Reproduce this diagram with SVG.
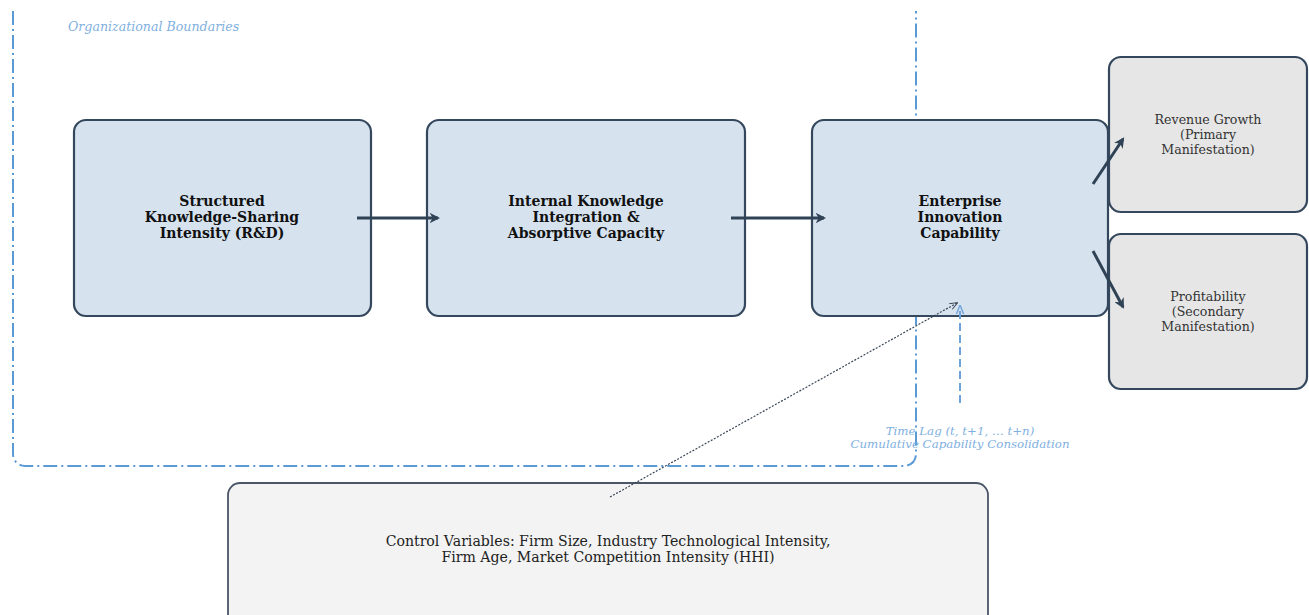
<svg xmlns="http://www.w3.org/2000/svg" width="1309" height="615" viewBox="0 0 1309 615">
<defs>
<style>
.main{fill:#d6e3ef;stroke:#34475d;stroke-width:2.2}
.out{fill:#e6e6e6;stroke:#34475d;stroke-width:2.2}
.ctl{fill:#f3f3f3;stroke:#4a5567;stroke-width:1.8}
.bt{font-family:"DejaVu Serif",serif;font-weight:bold;font-size:14px;fill:#111;text-anchor:middle}
.ot{font-family:"DejaVu Serif",serif;font-size:12.6px;fill:#333;text-anchor:middle}
.ct{font-family:"DejaVu Serif",serif;font-size:14.1px;fill:#222;text-anchor:middle}
.it{font-family:"DejaVu Serif",serif;font-style:italic;font-size:11.8px;fill:#7fb0e0}
.solid{stroke:#2f4256;stroke-width:3;fill:none}
</style>
<marker id="ah" viewBox="0 0 10 10" refX="8" refY="5" markerWidth="3.5" markerHeight="3.5" orient="auto" markerUnits="strokeWidth"><path d="M0,0 L10,5 L0,10 L3,5 z" fill="#2f4256"/></marker>
<marker id="ahd" viewBox="0 0 10 10" refX="9" refY="5" markerWidth="8" markerHeight="8" orient="auto" markerUnits="userSpaceOnUse"><path d="M0,1 L10,5 L0,9" fill="none" stroke="#3a4656" stroke-width="1.2"/></marker>
<marker id="ahb" viewBox="0 0 10 10" refX="9" refY="5" markerWidth="9" markerHeight="9" orient="auto" markerUnits="userSpaceOnUse"><path d="M0,1 L10,5 L0,9" fill="none" stroke="#6fa3dc" stroke-width="1.6"/></marker>
</defs>
<rect width="1309" height="615" fill="#fff"/>
<g id="boundary">
<path d="M13,11 V454 A12,12 0 0 0 25,466 H904 A12,12 0 0 0 916,454 V11" fill="none" stroke="#5b9bd5" stroke-width="2" stroke-dasharray="14,4,2,4"/>
<text class="it" x="68" y="31" style="font-size:12.6px">Organizational Boundaries</text>
</g>
<g id="n1"><rect class="main" x="74" y="120" width="297" height="196" rx="12"/>
<text class="bt" x="222" y="206">Structured</text><text class="bt" x="222" y="222">Knowledge-Sharing</text><text class="bt" x="222" y="238">Intensity (R&amp;D)</text></g>
<g id="n2"><rect class="main" x="427" y="120" width="318" height="196" rx="12"/>
<text class="bt" x="586" y="206">Internal Knowledge</text><text class="bt" x="586" y="222">Integration &amp;</text><text class="bt" x="586" y="238">Absorptive Capacity</text></g>
<g id="n3"><rect class="main" x="812" y="120" width="296" height="196" rx="12"/>
<text class="bt" x="960" y="206">Enterprise</text><text class="bt" x="960" y="222">Innovation</text><text class="bt" x="960" y="238">Capability</text></g>
<g id="n4"><rect class="out" x="1109" y="57" width="198" height="155" rx="12"/>
<text class="ot" x="1208" y="124">Revenue Growth</text><text class="ot" x="1208" y="139">(Primary</text><text class="ot" x="1208" y="154">Manifestation)</text></g>
<g id="n5"><rect class="out" x="1109" y="234" width="198" height="155" rx="12"/>
<text class="ot" x="1208" y="301">Profitability</text><text class="ot" x="1208" y="316">(Secondary</text><text class="ot" x="1208" y="331">Manifestation)</text></g>
<g id="n6"><rect class="ctl" x="228" y="483" width="760" height="150" rx="12"/>
<text class="ct" x="608" y="546">Control Variables: Firm Size, Industry Technological Intensity,</text>
<text class="ct" x="608" y="562">Firm Age, Market Competition Intensity (HHI)</text></g>
<g id="connectors">
<line class="solid" x1="357" y1="218" x2="438" y2="218" marker-end="url(#ah)"/>
<line class="solid" x1="731" y1="218" x2="824" y2="218" marker-end="url(#ah)"/>
<line class="solid" x1="1093" y1="184" x2="1123" y2="139" marker-end="url(#ah)"/>
<line class="solid" x1="1093" y1="251" x2="1123" y2="307" marker-end="url(#ah)"/>
<line x1="610" y1="497" x2="957" y2="303" stroke="#3a4656" stroke-width="1.2" stroke-dasharray="2,1.5" marker-end="url(#ahd)"/>
<line x1="960" y1="403" x2="960" y2="306" stroke="#6fa3dc" stroke-width="2" stroke-dasharray="8,4" marker-end="url(#ahb)"/>
<text class="it" x="960" y="435" text-anchor="middle">Time Lag (t, t+1, … t+n)</text>
<text class="it" x="960" y="448" text-anchor="middle">Cumulative Capability Consolidation</text>
</g>
</svg>
